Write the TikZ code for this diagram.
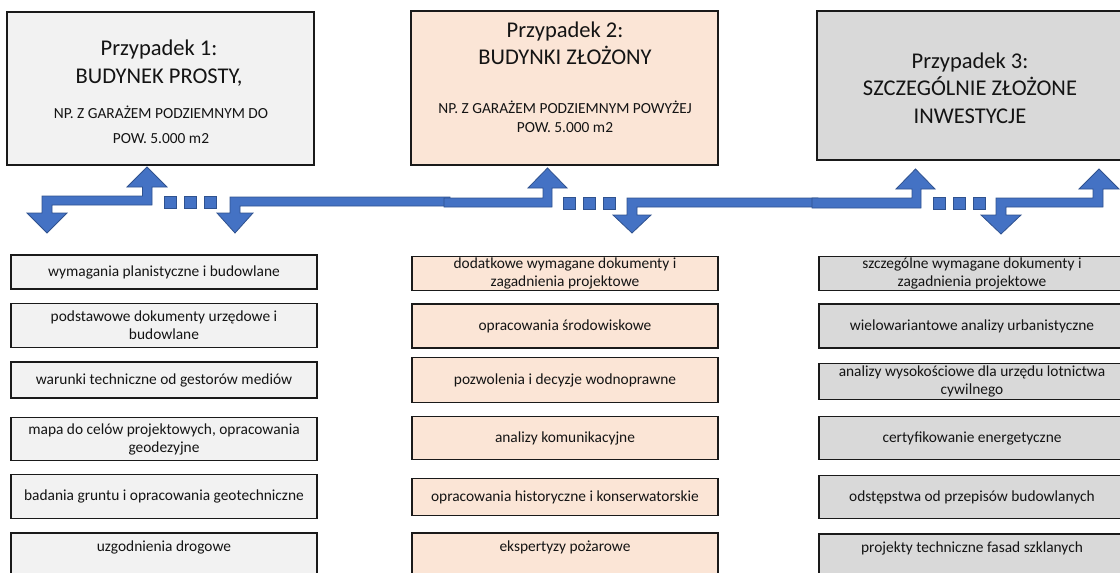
\documentclass[tikz,border=0pt]{standalone}
\usepackage{fontspec}
\setmainfont{Carlito}
\definecolor{arrowblue}{HTML}{4472C4}
\definecolor{arrowedge}{HTML}{2F528F}
\definecolor{paleGray}{HTML}{F2F2F2}
\definecolor{peach}{HTML}{FBE5D6}
\definecolor{midGray}{HTML}{D9D9D9}
\definecolor{edgeCol}{HTML}{1A1A1A}
\definecolor{txtCol}{HTML}{141414}
\begin{document}
\begin{tikzpicture}[x=1pt,y=-1pt,
  casebox/.style={draw=edgeCol, line width=1.3pt, inner sep=0pt},
  itembox/.style={draw=edgeCol, line width=1.2pt, minimum width=306pt, inner sep=0pt,
    align=center, text=txtCol, font=\fontsize{15.4}{18}\selectfont},
  itemtext/.style={inner sep=0pt, align=center, text=txtCol, font=\fontsize{15.4}{18}\selectfont},
  titletext/.style={align=center, inner sep=0pt, text=txtCol, font=\fontsize{22.5}{27.5}\selectfont},
  subtext/.style={align=center, inner sep=0pt, text=txtCol, font=\fontsize{15.4}{18.5}\selectfont},
  blockarrow/.style={fill=arrowblue, draw=arrowedge, line width=0.8pt, line join=miter},
  dotsq/.style={fill=arrowblue, draw=arrowedge, line width=0.8pt, minimum size=12pt, inner sep=0pt}
]
\useasboundingbox (0,0) rectangle (1120,573);
\clip (0,0) rectangle (1120,573);

% ---------- case boxes ----------
\node[casebox, fill=paleGray, minimum width=307pt, minimum height=153pt] (c1) at (160.5,88.5) {};
\node[casebox, fill=peach, minimum width=307pt, minimum height=154pt] (c2) at (564.5,88) {};
\node[casebox, fill=midGray, minimum width=307pt, minimum height=149pt] (c3) at (970.5,85.5) {};

\node[titletext] (t1) at (159,63) {Przypadek 1:\\BUDYNEK PROSTY,};
\node[subtext, font=\fontsize{15.4}{25}\selectfont] (s1) at (161,124.5) {NP. Z GARAŻEM PODZIEMNYM DO\\POW. 5.000 m2};
\node[titletext] (t2) at (565,43.5) {Przypadek 2:\\BUDYNKI ZŁOŻONY};
\node[subtext] (s2) at (565,117) {NP. Z GARAŻEM PODZIEMNYM POWYŻEJ\\POW. 5.000 m2};
\node[titletext] (t3) at (970,88) {Przypadek 3:\\SZCZEGÓLNIE ZŁOŻONE\\INWESTYCJE};

% ---------- block arrows ----------
\draw[blockarrow] (47,233) -- (27,213) -- (42,213) -- (42,196) -- (142.5,196) -- (142.5,187)
  -- (127,187) -- (147,167) -- (167,187) -- (152,187) -- (152,205) -- (52,205) -- (52,213)
  -- (67,213) -- cycle;
\draw[blockarrow] (235,233) -- (217,213) -- (230,213) -- (230,197) -- (450,197) -- (450,206)
  -- (240,206) -- (240,213) -- (253,213) -- cycle;
\draw[blockarrow] (444,198) -- (543,198) -- (543,188) -- (528,188) -- (547.5,168) -- (567,188)
  -- (552,188) -- (552,207) -- (444,207) -- cycle;
\draw[blockarrow] (632,233) -- (613,215) -- (627,215) -- (627,198) -- (818,198) -- (818,207)
  -- (637,207) -- (637,215) -- (651,215) -- cycle;
\draw[blockarrow] (812,198) -- (912,198) -- (912,189) -- (896,189) -- (915.5,169) -- (935,189)
  -- (921,189) -- (921,208) -- (812,208) -- cycle;
\draw[blockarrow] (1001,234) -- (981,215) -- (996,215) -- (996,198) -- (1093,198) -- (1093,189)
  -- (1079,189) -- (1099,169) -- (1119,189) -- (1103,189) -- (1103,207) -- (1006,207)
  -- (1006,215) -- (1021,215) -- cycle;

% ---------- dots ----------
\node[dotsq] (da1) at (170,202) {};
\node[dotsq] (da2) at (190,202) {};
\node[dotsq] (da3) at (210,202) {};
\node[dotsq] (db1) at (569,203) {};
\node[dotsq] (db2) at (589,203) {};
\node[dotsq] (db3) at (609,203) {};
\node[dotsq] (dc1) at (939,203) {};
\node[dotsq] (dc2) at (959,203) {};
\node[dotsq] (dc3) at (979,203) {};

% ---------- column 1 ----------
\node[itembox, fill=paleGray, minimum height=34pt] (a1) at (164,272) {wymagania planistyczne i budowlane};
\node[itembox, fill=paleGray, minimum height=44pt] (a2) at (164,325.5) {podstawowe dokumenty urzędowe i\\budowlane};
\node[itembox, fill=paleGray, minimum height=36pt] (a3) at (164,380) {warunki techniczne od gestorów mediów};
\node[itembox, fill=paleGray, minimum height=43pt] (a4) at (164,439) {mapa do celów projektowych, opracowania\\geodezyjne};
\node[itembox, fill=paleGray, minimum height=44pt] (a5) at (164,496.5) {badania gruntu i opracowania geotechniczne};
\node[itembox, fill=paleGray, minimum height=57pt] (a6) at (164,561.5) {};
\node[itemtext] (a6t) at (164,547.5) {uzgodnienia drogowe};

% ---------- column 2 ----------
\node[itembox, fill=peach, minimum height=34pt] (b1) at (565,273.5) {dodatkowe wymagane dokumenty i\\zagadnienia projektowe};
\node[itembox, fill=peach, minimum height=44pt] (b2) at (565,326) {opracowania środowiskowe};
\node[itembox, fill=peach, minimum height=45pt] (b3) at (565,380) {pozwolenia i decyzje wodnoprawne};
\node[itembox, fill=peach, minimum height=43pt] (b4) at (565,438) {analizy komunikacyjne};
\node[itembox, fill=peach, minimum height=37pt] (b5) at (565,497) {opracowania historyczne i konserwatorskie};
\node[itembox, fill=peach, minimum height=57pt] (b6) at (565,561.5) {};
\node[itemtext] (b6t) at (565,547.5) {ekspertyzy pożarowe};

% ---------- column 3 ----------
\node[itembox, fill=midGray, minimum height=34pt] (e1) at (972,273.5) {szczególne wymagane dokumenty i\\zagadnienia projektowe};
\node[itembox, fill=midGray, minimum height=44pt] (e2) at (972,326) {wielowariantowe analizy urbanistyczne};
\node[itembox, fill=midGray, minimum height=36pt] (e3) at (972,381.5) {analizy wysokościowe dla urzędu lotnictwa\\cywilnego};
\node[itembox, fill=midGray, minimum height=43pt] (e4) at (972,438) {certyfikowanie energetyczne};
\node[itembox, fill=midGray, minimum height=43pt] (e5) at (972,497) {odstępstwa od przepisów budowlanych};
\node[itembox, fill=midGray, minimum height=56pt] (e6) at (972,562) {};
\node[itemtext] (e6t) at (972,548) {projekty techniczne fasad szklanych};
\end{tikzpicture}
\end{document}
